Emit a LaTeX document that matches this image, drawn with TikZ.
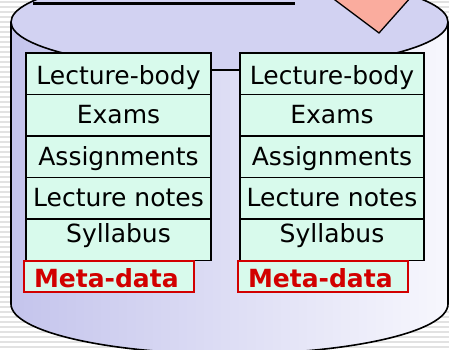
\documentclass[tikz,border=0pt]{standalone}
\usepackage{fontspec}
\setmainfont{DejaVu Sans}
\definecolor{mint}{RGB}{216,250,236}
\definecolor{metared}{RGB}{210,0,0}
\definecolor{cylleft}{RGB}{196,196,236}
\definecolor{cylright}{RGB}{247,247,253}
\definecolor{cyltop}{RGB}{210,210,242}
\definecolor{salmon}{RGB}{250,172,158}
\definecolor{stripegray}{RGB}{226,226,226}
\tikzset{
  stripe/.style={stripegray, line width=2pt},
  cylline/.style={black, line width=1.6pt},
  rowbox/.style={draw=black, line width=1.6pt, fill=mint, inner sep=0pt,
    minimum height=41.5pt, font=\fontsize{25}{27}\selectfont,
    text height=17pt, text depth=0pt},
  metabox/.style={draw=metared, line width=1.6pt, fill=mint, inner ysep=0pt,
    inner xsep=10pt, text width=150pt, align=left, minimum height=31pt,
    text=metared, font=\fontsize{25}{27}\selectfont\bfseries,
    text height=21pt, text depth=0pt},
  conn/.style={black, line width=1.6pt},
}
\begin{document}
\begin{tikzpicture}[x=1pt,y=-1pt]
\useasboundingbox (0,0) rectangle (449,349);
\clip (0,0) rectangle (449,349);
\fill[white] (0,0) rectangle (449,349);
\foreach \yy in {2,7,...,349} \draw[stripe] (0,\yy) -- (449,\yy);
% cylinder
\path[left color=cylleft, right color=cylright]
  (11,22) -- (11,304) arc[start angle=180, end angle=0, x radius=218.5, y radius=50] -- (448,22) -- cycle;
\draw[cylline] (11,22) -- (11,304) arc[start angle=180, end angle=0, x radius=218.5, y radius=50] -- (448,22);
\draw[cylline, fill=cyltop] (229.5,22) ellipse[x radius=218.5, y radius=48];
% header line and triangle
\draw[black, line width=3pt] (33,3) -- (295,3);
\draw[black, line width=1.3pt, fill=salmon] (331,-3) -- (379,33) -- (411,-3);
% left column
\node[rowbox, minimum width=185pt, text height=21pt] (L1) at (118.5,73.75) {Lecture-body};
\node[rowbox, minimum width=185pt] (L2) at (118.5,115.25) {Exams};
\node[rowbox, minimum width=185pt] (L3) at (118.5,156.75) {Assignments};
\node[rowbox, minimum width=185pt] (L4) at (118.5,198.25) {Lecture notes};
\node[rowbox, minimum width=185pt, text height=6pt] (L5) at (118.5,239.75) {Syllabus};
\node[metabox, minimum width=170pt] (ML) at (109,276.5) {Meta-data};
% right column
\node[rowbox, minimum width=184pt, text height=21pt] (R1) at (332,73.75) {Lecture-body};
\node[rowbox, minimum width=184pt] (R2) at (332,115.25) {Exams};
\node[rowbox, minimum width=184pt] (R3) at (332,156.75) {Assignments};
\node[rowbox, minimum width=184pt] (R4) at (332,198.25) {Lecture notes};
\node[rowbox, minimum width=184pt, text height=6pt] (R5) at (332,239.75) {Syllabus};
\node[metabox, minimum width=170pt] (MR) at (323,276.5) {Meta-data};
% connector
\draw[conn] ([yshift=3.75pt]L1.east) -- ([yshift=3.75pt]R1.west);
\end{tikzpicture}
\end{document}
